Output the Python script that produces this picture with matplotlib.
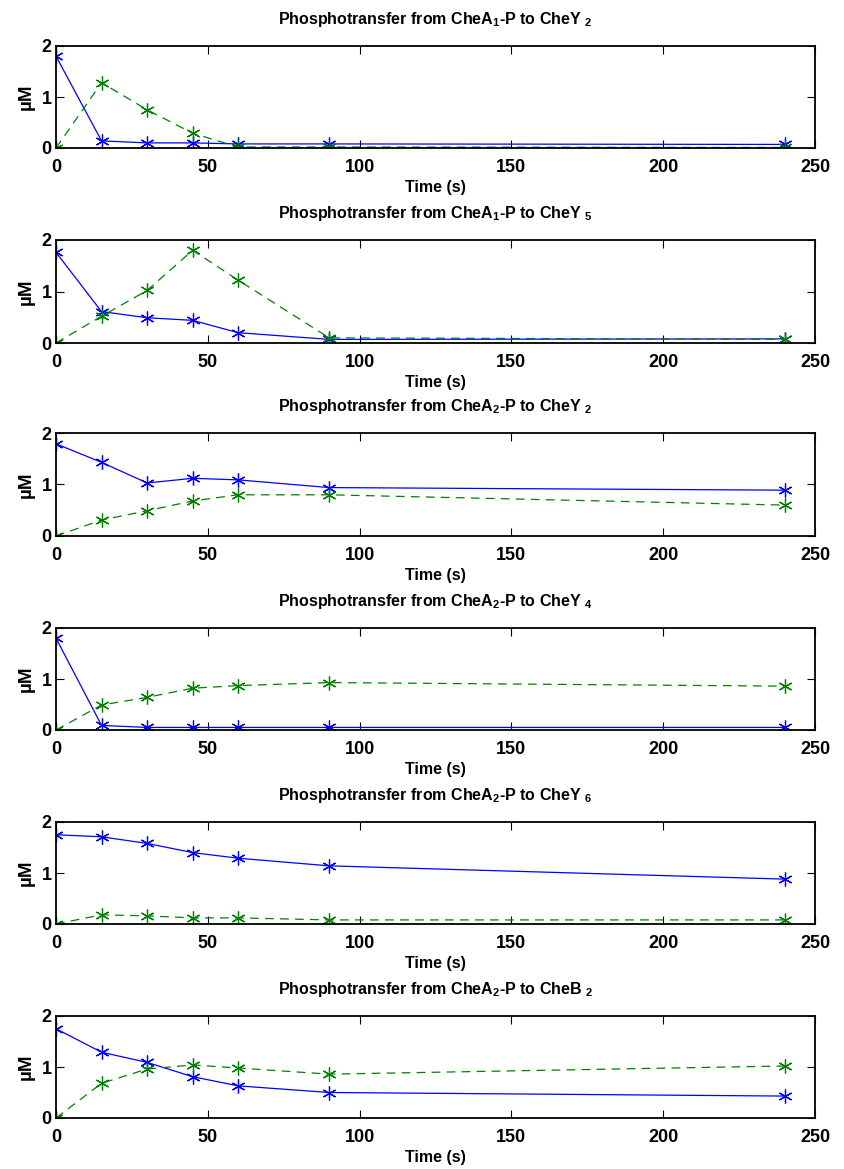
import matplotlib
matplotlib.use("Agg")
import matplotlib.pyplot as plt

plt.rcParams['font.family'] = ['Liberation Sans', 'DejaVu Sans']
plt.rcParams['font.weight'] = 'bold'
plt.rcParams['mathtext.fontset'] = 'custom'
plt.rcParams['mathtext.rm'] = 'Liberation Sans:bold'
plt.rcParams['mathtext.it'] = 'Liberation Sans:bold'
plt.rcParams['mathtext.bf'] = 'Liberation Sans:bold'

# sampling times (s)
time_s = [0, 15, 30, 45, 60, 90, 240]

titles = [
    r"Phosphotransfer from CheA$_1$-P to CheY $_2$",
    r"Phosphotransfer from CheA$_1$-P to CheY $_5$",
    r"Phosphotransfer from CheA$_2$-P to CheY $_2$",
    r"Phosphotransfer from CheA$_2$-P to CheY $_4$",
    r"Phosphotransfer from CheA$_2$-P to CheY $_6$",
    r"Phosphotransfer from CheA$_2$-P to CheB $_2$",
]

# phosphorylated kinase (blue, solid)
chea_p = [
    [1.80, 0.14, 0.10, 0.10, 0.08, 0.08, 0.07],
    [1.76, 0.61, 0.49, 0.44, 0.20, 0.07, 0.08],
    [1.79, 1.43, 1.03, 1.12, 1.09, 0.94, 0.89],
    [1.80, 0.09, 0.05, 0.05, 0.05, 0.05, 0.05],
    [1.75, 1.71, 1.58, 1.40, 1.29, 1.14, 0.88],
    [1.75, 1.29, 1.09, 0.81, 0.63, 0.50, 0.43],
]

# phosphorylated response regulator (green, dashed)
rr_p = [
    [0.00, 1.28, 0.75, 0.29, 0.02, 0.02, 0.01],
    [0.00, 0.52, 1.02, 1.80, 1.22, 0.10, 0.07],
    [0.00, 0.31, 0.49, 0.68, 0.80, 0.80, 0.60],
    [0.00, 0.49, 0.64, 0.82, 0.87, 0.93, 0.86],
    [0.00, 0.18, 0.16, 0.12, 0.12, 0.08, 0.08],
    [0.00, 0.68, 0.96, 1.04, 0.98, 0.86, 1.02],
]

W, H = 844, 1169
fig = plt.figure(figsize=(W / 100, H / 100), dpi=100)

ax_top_px = [46, 240, 433, 628, 822, 1016]
ax_bot_px = [148, 343, 536, 730, 924, 1118]
left_px, right_px = 56, 815

asterisk = (6, 2, 0)
for i in range(6):
    rect = [left_px / W, 1 - ax_bot_px[i] / H,
            (right_px - left_px) / W, (ax_bot_px[i] - ax_top_px[i]) / H]
    ax = fig.add_axes(rect)
    ax.plot(time_s, chea_p[i], color=(0, 0, 1), lw=0.9,
            marker=asterisk, ms=10, mew=0.9)
    ax.plot(time_s, rr_p[i], color=(0, 0.5, 0), lw=0.9, ls=(0, (7, 5)),
            marker=asterisk, ms=10, mew=0.9)
    ax.set_xlim(0, 250)
    ax.set_ylim(0, 2)
    ax.set_xticks([0, 50, 100, 150, 200, 250])
    ax.set_yticks([0, 1, 2])
    ax.tick_params(direction='in', top=True, right=True, length=6,
                   width=0.8, labelsize=13)
    ax.tick_params(axis='x', pad=8)
    ax.tick_params(axis='y', pad=3)
    for lbl in ax.get_xticklabels() + ax.get_yticklabels():
        lbl.set_fontweight('bold')
    for s in ax.spines.values():
        s.set_linewidth(1.3)
    ax.set_title(titles[i], fontsize=11.5, fontweight='bold', pad=16)
    ax.set_xlabel("Time (s)", fontsize=11.5, fontweight='bold', labelpad=3)
    ax.set_ylabel("µM", fontsize=13.5, fontweight='bold', labelpad=5)

fig.savefig("out.png", dpi=100)
